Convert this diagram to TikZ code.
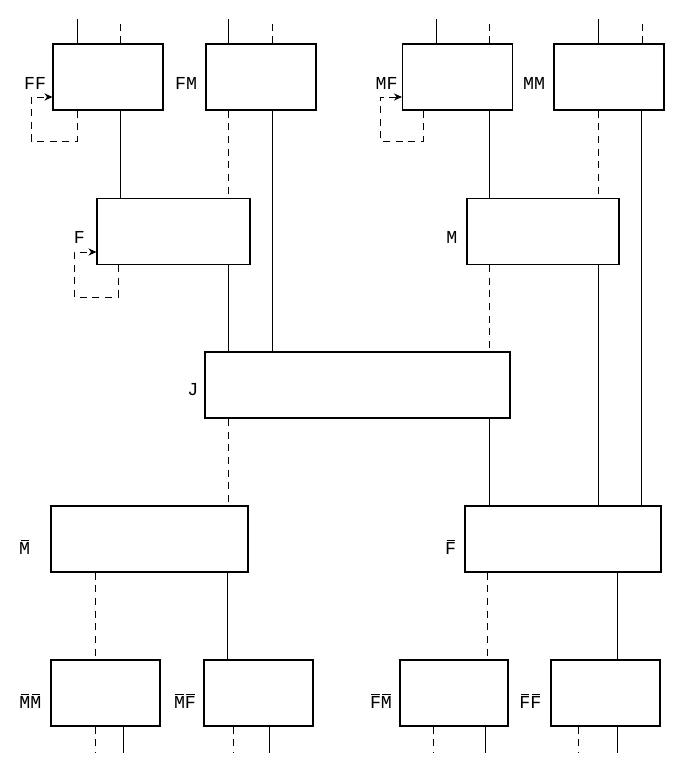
\documentclass[tikz,border=0pt]{standalone}
\usepackage{fontspec}
\setmonofont{Liberation Mono}
\usetikzlibrary{arrows.meta,positioning}
\newcommand{\topbar}[1]{$\mkern1.5mu\overline{\mkern-1.5mu\mbox{#1}\mkern-1.5mu}\mkern1.5mu$}

\begin{document}
\begin{tikzpicture}[x=0.025cm,y=-0.025cm,>={Stealth[length=2mm,width=1.8mm]},
  box/.style={draw,line width=0.8pt,minimum width=#1*0.025cm,minimum height=1.65cm,inner sep=0pt},
  lbl/.style={font=\ttfamily\fontsize{13}{13}\selectfont,inner sep=0pt},
  link/.style={line width=0.7pt},
  dlink/.style={line width=0.7pt,dash pattern=on 5pt off 4pt}]
\useasboundingbox (0,0) rectangle (673,758);

% grandparents
\node[box=110] (ff) at (108,77) {};
\node[box=110] (fm) at (261,77) {};
\node[box=110] (mf) at (457.5,77) {};
\node[box=110] (mm) at (609,77) {};
% parents
\node[box=153] (f) at (173.5,231.5) {};
\node[box=152] (m) at (543,231.5) {};
% proband
\node[box=305,line width=1.6pt] (j) at (357.5,385) {};
% children
\node[box=197] (mb) at (149.5,539) {};
\node[box=196] (fb) at (563,539) {};
% grandchildren
\node[box=109] (mbmb) at (105.5,693) {};
\node[box=109] (mbfb) at (258.5,693) {};
\node[box=108] (fbmb) at (454,693) {};
\node[box=109] (fbfb) at (605.5,693) {};

% labels
\node[lbl,left=1.5mm of ff,yshift=-1.5mm] {FF};
\node[lbl,left=2mm of fm,yshift=-1.5mm] {FM};
\node[lbl,left=1mm of mf,yshift=-1.5mm] {MF};
\node[lbl,left=2mm of mm,yshift=-1.5mm] {MM};
\node[lbl,left=2.8mm of f,yshift=-1.5mm] {F};
\node[lbl,left=2.2mm of m,yshift=-1.5mm] {M};
\node[lbl,left=1.3mm of j,yshift=-1.2mm] {J};
\node[lbl,left=5mm of mb,yshift=-2mm] {\topbar{M}};
\node[lbl,left=2mm of fb,yshift=-2mm] {\topbar{F}};
\node[lbl,left=2.2mm of mbmb,yshift=-2mm] {\topbar{M}\topbar{M}};
\node[lbl,left=1.8mm of mbfb,yshift=-2mm] {\topbar{M}\topbar{F}};
\node[lbl,left=1.8mm of fbmb,yshift=-2mm] {\topbar{F}\topbar{M}};
\node[lbl,left=2.2mm of fbfb,yshift=-2mm] {\topbar{F}\topbar{F}};

% lines coming in from above
\draw[link] (ff.north -| 77,0) -- ++(0,-24);
\draw[dlink] (ff.north -| 120,0) -- ++(0,-24);
\draw[link] (fm.north -| 228,0) -- ++(0,-24);
\draw[dlink] (fm.north -| 272,0) -- ++(0,-24);
\draw[link] (mf.north -| 436,0) -- ++(0,-24);
\draw[dlink] (mf.north -| 489,0) -- ++(0,-24);
\draw[link] (mm.north -| 598,0) -- ++(0,-24);
\draw[dlink] (mm.north -| 642,0) -- ++(0,-24);

% grandparents to parents and J
\draw[link] (ff.south -| 120,0) -- (f.north -| 120,0);
\draw[dlink] (fm.south -| 228,0) -- (f.north -| 228,0);
\draw[link] (fm.south -| 272,0) -- (j.north -| 272,0);
\draw[link] (mf.south -| 489,0) -- (m.north -| 489,0);
\draw[dlink] (mm.south -| 598,0) -- (m.north -| 598,0);
\draw[link] (mm.south -| 641,0) -- (fb.north -| 641,0);

% parents to J and children
\draw[link] (f.south -| 228,0) -- (j.north -| 228,0);
\draw[dlink] (m.south -| 489,0) -- (j.north -| 489,0);
\draw[link] (m.south -| 598,0) -- (fb.north -| 598,0);

% J to children
\draw[dlink] (j.south -| 228,0) -- (mb.north -| 228,0);
\draw[link] (j.south -| 489,0) -- (fb.north -| 489,0);

% children to grandchildren
\draw[dlink] (mb.south -| 95,0) -- (mbmb.north -| 95,0);
\draw[link] (mb.south -| 227,0) -- (mbfb.north -| 227,0);
\draw[dlink] (fb.south -| 487,0) -- (fbmb.north -| 487,0);
\draw[link] (fb.south -| 617,0) -- (fbfb.north -| 617,0);

% lines going out below
\draw[dlink] (mbmb.south -| 95,0) -- ++(0,26);
\draw[link] (mbmb.south -| 123,0) -- ++(0,26);
\draw[dlink] (mbfb.south -| 233,0) -- ++(0,26);
\draw[link] (mbfb.south -| 269,0) -- ++(0,26);
\draw[dlink] (fbmb.south -| 433,0) -- ++(0,26);
\draw[link] (fbmb.south -| 485,0) -- ++(0,26);
\draw[dlink] (fbfb.south -| 578,0) -- ++(0,26);
\draw[link] (fbfb.south -| 617,0) -- ++(0,26);

% loops back into the box
\draw[dlink,->] (ff.south -| 77,0) -- (77,141) -| (31,97) -- (ff.west |- 0,97);
\draw[dlink,->] (mf.south -| 423,0) -- (423,141) -| (380,97) -- (mf.west |- 0,97);
\draw[dlink,->] (f.south -| 118,0) -- (118,297) -| (74,252) -- (f.west |- 0,252);
\end{tikzpicture}
\end{document}
